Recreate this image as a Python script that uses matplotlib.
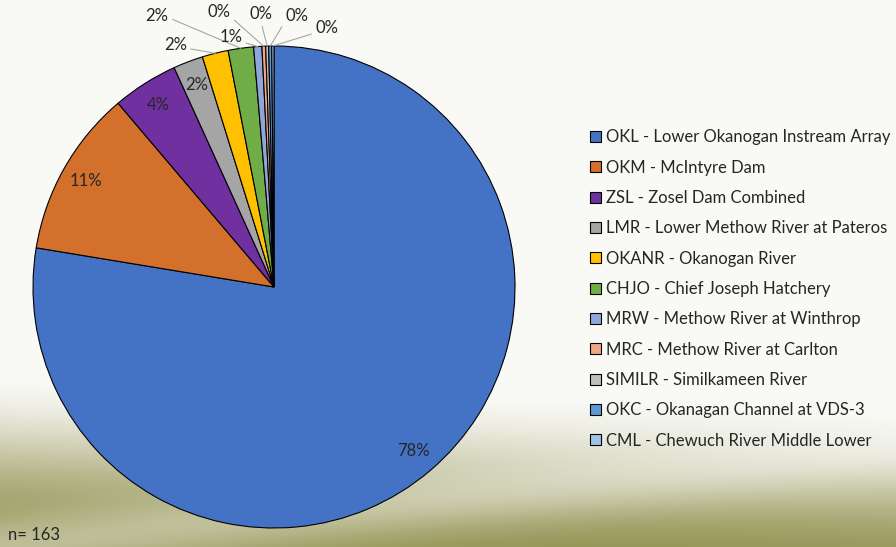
import numpy as np
import matplotlib
matplotlib.use("Agg")
import matplotlib.pyplot as plt

plt.rcParams['font.family'] = ['Lato', 'DejaVu Sans']

# detection share by site (percent of tagged fish)
sites = ['OKL - Lower Okanogan Instream Array', 'OKM - McIntyre Dam',
         'ZSL - Zosel Dam Combined', 'LMR - Lower Methow River at Pateros',
         'OKANR - Okanogan River', 'CHJO - Chief Joseph Hatchery',
         'MRW - Methow River at Winthrop', 'MRC - Methow River at Carlton',
         'SIMILR - Similkameen River', 'OKC - Okanagan Channel at VDS-3',
         'CML - Chewuch River Middle Lower']
share = [77.6, 11.2, 4.4, 2.0, 1.75, 1.7, 0.55, 0.25, 0.2, 0.2, 0.15]
n_fish = 163

colors = ['#4472C4', '#D2702C', '#7030A0', '#A5A5A5', '#FFC000', '#70AD47',
          '#8FA6DA', '#F0A585', '#C0C0C0', '#5B9BD5', '#9DC3E6']

W, H = 896, 547
fig = plt.figure(figsize=(W / 100, H / 100), dpi=100)

# theme background: pale top fading to olive with a light swoosh
bg = fig.add_axes([0, 0, 1, 1], zorder=-10)
xx, yy = np.meshgrid(np.linspace(0, 1, W), np.linspace(0, 1, H))
t = np.clip((yy - (0.68 + 0.06 * xx)) / 0.30, 0, 1)
w = t * t * (3 - 2 * t)
c2 = 1.0 - 0.18 * xx
band = 0.4 * np.exp(-((yy - c2) / 0.06) ** 2) * w
w = np.clip(w - band, 0, 1)
top = np.array([249, 249, 246]) / 255
low = np.array([150, 150, 88]) / 255
img = top[None, None, :] * (1 - w[..., None]) + low[None, None, :] * w[..., None]
bg.imshow(img, aspect='auto', extent=[0, 1, 0, 1])
bg.axis('off')

cx, cy, r = 274, 287, 241
ax = fig.add_axes([(cx - r) / W, (H - cy - r) / H, 2 * r / W, 2 * r / H])
wedges, _ = ax.pie(share, colors=colors, startangle=90, counterclock=False,
                   radius=1, wedgeprops=dict(edgecolor='black', linewidth=0.8))
ax.set_xlim(-1, 1)
ax.set_ylim(-1, 1)
ax.set_aspect('equal')
ax.axis('off')

total = sum(share)
pct = ['%.0f%%' % (100 * v / total) for v in share]

def mid(wd, rr):
    a = np.deg2rad((wd.theta1 + wd.theta2) / 2)
    return rr * np.cos(a), rr * np.sin(a)

# labels inside the big slices
for i in range(4):
    x, y = mid(wedges[i], 0.895)
    ax.text(x, y, pct[i], ha='center', va='center', fontsize=12, color='#262626')

# small slices get leader lines
outside = {4: ((-0.41, 1.004), (1, 0.3)),
           5: ((-0.485, 1.124), (1, 0.4)),
           6: ((-0.18, 1.037), (1, 0.2)),
           7: ((-0.228, 1.141), (1, 0.2)),
           8: ((-0.054, 1.133), (0.5, 0)),
           9: ((0.095, 1.124), (0, 0.2)),
           10: ((0.22, 1.075), (0, 0.2))}
for i, (pos, rel) in outside.items():
    ax.annotate(pct[i], xy=mid(wedges[i], 1.0), xytext=pos,
                ha='center', va='center', fontsize=12, color='#262626',
                annotation_clip=False,
                arrowprops=dict(arrowstyle='-', color='#A6A6A6', lw=0.8,
                                relpos=rel, shrinkA=1, shrinkB=0))

fig.legend(wedges, sites, loc='upper left',
           bbox_to_anchor=(582 / W, 1 - 121 / H), frameon=False,
           fontsize=12, handlelength=0.62, handleheight=0.62,
           handletextpad=0.3, labelspacing=0.86, borderpad=0,
           labelcolor='#262626')

fig.text(8 / W, 1 - 535 / H, 'n= %d' % n_fish, fontsize=12,
         va='center', ha='left', color='#262626')

fig.savefig('out.png', dpi=100)
